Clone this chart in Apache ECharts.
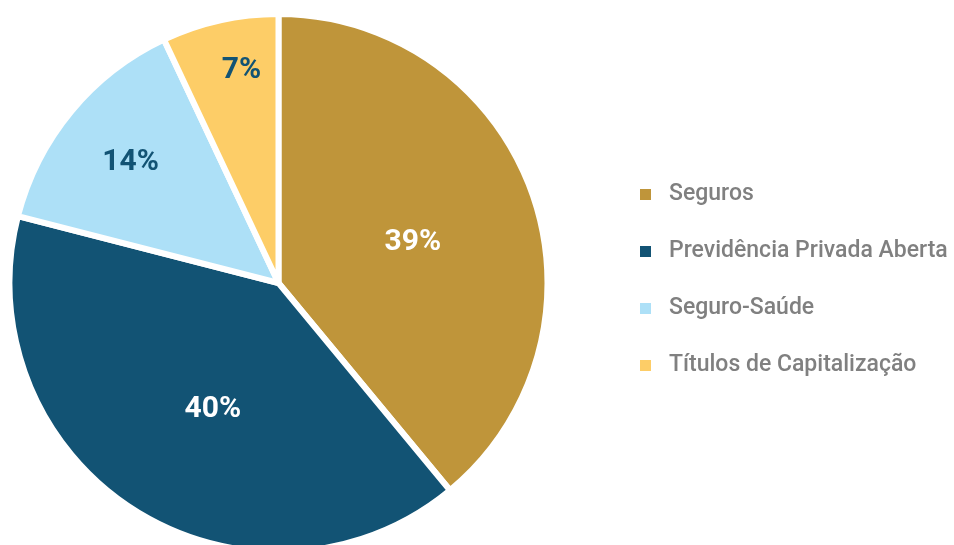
<!DOCTYPE html>
<html>
<head>
<meta charset="utf-8">
<script src="https://cdn.jsdelivr.net/npm/echarts@6/dist/echarts.min.js"></script>
<style>
html,body{margin:0;padding:0;background:#fff;}
#chart{width:954px;height:545px;}
</style>
</head>
<body>
<div id="chart"></div>
<script>
var categories = ['Seguros', 'Previdência Privada Aberta', 'Seguro-Saúde', 'Títulos de Capitalização'];
var shares = [39, 40, 14, 7];
var sliceColors = ['#BF953A', '#125374', '#ADE0F7', '#FDCD67'];
var labelColors = ['#FFFFFF', '#FFFFFF', '#125374', '#125374'];
var labelShift = [[5, 6], [8, 10], [-42, -33], [-7, -78]];

var chart = echarts.init(document.getElementById('chart'), null, {renderer: 'canvas'});
chart.setOption({
  animation: false,
  color: sliceColors,
  legend: {
    orient: 'vertical',
    left: 633,
    top: 178,
    itemWidth: 13,
    itemHeight: 13,
    itemGap: 34,
    icon: 'rect',
    textStyle: {
      color: '#808080',
      fontSize: 23,
      fontWeight: 500,
      fontFamily: 'Roboto',
      padding: [0, 0, 0, 12]
    },
    data: categories
  },
  series: [{
    type: 'pie',
    center: [278.5, 283],
    radius: [0, 269],
    startAngle: 90,
    clockwise: true,
    avoidLabelOverlap: false,
    itemStyle: {borderColor: '#FFFFFF', borderWidth: 6},
    label: {
      position: 'inside',
      formatter: '{c}%',
      fontSize: 30,
      fontWeight: 'bold',
      fontFamily: 'Roboto'
    },
    labelLine: {show: false},
    emphasis: {disabled: true},
    labelLayout: function (p) {
      return {dx: labelShift[p.dataIndex][0], dy: labelShift[p.dataIndex][1]};
    },
    data: categories.map(function (n, i) {
      return {name: n, value: shares[i], label: {color: labelColors[i]}};
    })
  }]
});
</script>
</body>
</html>
